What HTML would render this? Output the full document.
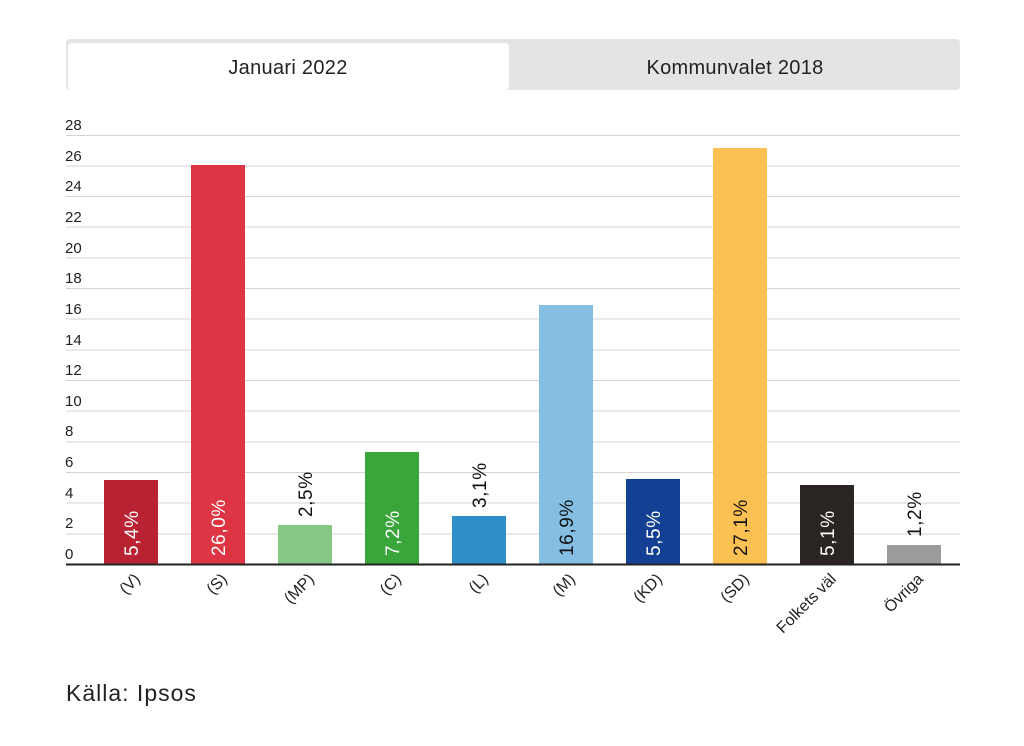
<!DOCTYPE html>
<html><head><meta charset="utf-8"><style>
body{margin:0;background:#fff;width:1024px;height:741px;overflow:hidden;font-family:"Liberation Sans",sans-serif}
</style></head><body>
<svg width="1024" height="741" xmlns="http://www.w3.org/2000/svg" font-family="Liberation Sans, sans-serif">
<rect x="66" y="39" width="894" height="51" rx="4" fill="#e4e4e4"/>
<rect x="68" y="43" width="441" height="47" rx="4" fill="#fff"/>
<text x="288" y="74" font-size="20" letter-spacing="0.3" text-anchor="middle" fill="#222">Januari 2022</text>
<text x="735" y="74" font-size="20" letter-spacing="0.3" text-anchor="middle" fill="#222">Kommunvalet 2018</text>
<g stroke="#d4d4d4" stroke-width="1">
<line x1="66" x2="960" y1="135.5" y2="135.5"/><line x1="66" x2="960" y1="166" y2="166"/>
<line x1="66" x2="960" y1="196.5" y2="196.5"/><line x1="66" x2="960" y1="227" y2="227"/>
<line x1="66" x2="960" y1="258" y2="258"/><line x1="66" x2="960" y1="288.5" y2="288.5"/>
<line x1="66" x2="960" y1="319" y2="319"/><line x1="66" x2="960" y1="350" y2="350"/>
<line x1="66" x2="960" y1="380.5" y2="380.5"/><line x1="66" x2="960" y1="411" y2="411"/>
<line x1="66" x2="960" y1="442" y2="442"/><line x1="66" x2="960" y1="472.5" y2="472.5"/>
<line x1="66" x2="960" y1="503" y2="503"/><line x1="66" x2="960" y1="534" y2="534"/>
</g>
<g font-size="15" fill="#222">
<text x="65" y="130">28</text><text x="65" y="161">26</text><text x="65" y="191">24</text><text x="65" y="222">22</text>
<text x="65" y="253">20</text><text x="65" y="283">18</text><text x="65" y="314">16</text><text x="65" y="345">14</text>
<text x="65" y="375">12</text><text x="65" y="406">10</text><text x="65" y="436">8</text><text x="65" y="467">6</text>
<text x="65" y="498">4</text><text x="65" y="528">2</text><text x="65" y="559">0</text>
</g>
<rect x="104" y="480" width="54" height="84" fill="#b82232"/>
<rect x="191" y="165" width="54" height="399" fill="#de3545"/>
<rect x="278" y="525" width="54" height="39" fill="#86c784"/>
<rect x="365" y="452" width="54" height="112" fill="#39a53b"/>
<rect x="452" y="516" width="54" height="48" fill="#2f8ec8"/>
<rect x="539" y="305" width="54" height="259" fill="#84bfe3"/>
<rect x="626" y="479" width="54" height="85" fill="#134092"/>
<rect x="713" y="148" width="54" height="416" fill="#fdc052"/>
<rect x="800" y="485" width="54" height="79" fill="#2a2523"/>
<rect x="887" y="545" width="54" height="19" fill="#9b9b9b"/>
<line x1="66" x2="960" y1="564.5" y2="564.5" stroke="#222" stroke-width="2"/>
<g font-size="19" letter-spacing="0.6">
<text transform="translate(138,556) rotate(-90)" fill="#fff">5,4%</text>
<text transform="translate(225,556) rotate(-90)" fill="#fff">26,0%</text>
<text transform="translate(312,517) rotate(-90)" fill="#111">2,5%</text>
<text transform="translate(399,556) rotate(-90)" fill="#fff">7,2%</text>
<text transform="translate(486,508) rotate(-90)" fill="#111">3,1%</text>
<text transform="translate(573,556) rotate(-90)" fill="#111">16,9%</text>
<text transform="translate(660,556) rotate(-90)" fill="#fff">5,5%</text>
<text transform="translate(747,556) rotate(-90)" fill="#111">27,1%</text>
<text transform="translate(834,556) rotate(-90)" fill="#fff">5,1%</text>
<text transform="translate(921,537) rotate(-90)" fill="#111">1,2%</text>
</g>
<g font-size="16" fill="#222" text-anchor="end">
<text transform="translate(141,580) rotate(-45)">(V)</text>
<text transform="translate(228,580) rotate(-45)">(S)</text>
<text transform="translate(315,580) rotate(-45)">(MP)</text>
<text transform="translate(402,580) rotate(-45)">(C)</text>
<text transform="translate(489,580) rotate(-45)">(L)</text>
<text transform="translate(576,580) rotate(-45)">(M)</text>
<text transform="translate(663,580) rotate(-45)">(KD)</text>
<text transform="translate(750,580) rotate(-45)">(SD)</text>
<text transform="translate(837,580) rotate(-45)">Folkets väl</text>
<text transform="translate(924,580) rotate(-45)">Övriga</text>
</g>
<text x="66" y="701" font-size="23" letter-spacing="1" fill="#222">Källa: Ipsos</text>
</svg>
</body></html>
